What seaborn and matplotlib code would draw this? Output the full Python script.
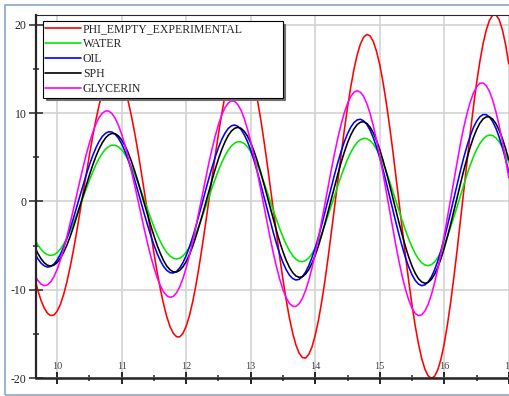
import matplotlib
matplotlib.use("Agg")
import matplotlib.pyplot as plt
import pandas as pd
import seaborn as sns
from matplotlib.patches import Rectangle
from matplotlib.ticker import MultipleLocator

# time axis (s), one row per second, and angle traces
TIME = [
    9.60, 9.65, 9.70, 9.75, 9.80, 9.85, 9.90, 9.95,
    10.00, 10.05, 10.10, 10.15, 10.20, 10.25, 10.30, 10.35, 10.40, 10.45,
    10.50, 10.55, 10.60, 10.65, 10.70, 10.75, 10.80, 10.85, 10.90, 10.95,
    11.00, 11.05, 11.10, 11.15, 11.20, 11.25, 11.30, 11.35, 11.40, 11.45,
    11.50, 11.55, 11.60, 11.65, 11.70, 11.75, 11.80, 11.85, 11.90, 11.95,
    12.00, 12.05, 12.10, 12.15, 12.20, 12.25, 12.30, 12.35, 12.40, 12.45,
    12.50, 12.55, 12.60, 12.65, 12.70, 12.75, 12.80, 12.85, 12.90, 12.95,
    13.00, 13.05, 13.10, 13.15, 13.20, 13.25, 13.30, 13.35, 13.40, 13.45,
    13.50, 13.55, 13.60, 13.65, 13.70, 13.75, 13.80, 13.85, 13.90, 13.95,
    14.00, 14.05, 14.10, 14.15, 14.20, 14.25, 14.30, 14.35, 14.40, 14.45,
    14.50, 14.55, 14.60, 14.65, 14.70, 14.75, 14.80, 14.85, 14.90, 14.95,
    15.00, 15.05, 15.10, 15.15, 15.20, 15.25, 15.30, 15.35, 15.40, 15.45,
    15.50, 15.55, 15.60, 15.65, 15.70, 15.75, 15.80, 15.85, 15.90, 15.95,
    16.00, 16.05, 16.10, 16.15, 16.20, 16.25, 16.30, 16.35, 16.40, 16.45,
    16.50, 16.55, 16.60, 16.65, 16.70, 16.75, 16.80, 16.85, 16.90, 16.95,
    17.00,
]
PHI_EMPTY = [
    -7.04, -8.64, -10.04, -11.19, -12.06, -12.64, -12.90, -12.84,
    -12.41, -11.64, -10.53, -9.12, -7.46, -5.59, -3.54, -1.36, 0.87, 3.10,
    5.27, 7.33, 9.22, 10.89, 12.28, 13.40, 14.18, 14.61, 14.68, 14.38,
    13.71, 12.70, 11.35, 9.71, 7.82, 5.73, 3.49, 1.14, -1.22, -3.58,
    -5.86, -8.01, -9.93, -11.63, -13.06, -14.17, -14.91, -15.30, -15.31, -14.91,
    -14.10, -12.91, -11.36, -9.49, -7.34, -5.00, -2.52, 0.07, 2.67, 5.22,
    7.66, 9.90, 11.92, 13.66, 15.04, 16.06, 16.69, 16.90, 16.68, 16.02,
    14.94, 13.47, 11.65, 9.52, 7.13, 4.55, 1.85, -0.92, -3.66, -6.34,
    -8.85, -11.16, -13.19, -14.88, -16.22, -17.15, -17.65, -17.71, -17.30, -16.44,
    -15.12, -13.42, -11.34, -8.96, -6.31, -3.50, -0.60, 2.35, 5.26, 8.04,
    10.63, 12.94, 14.95, 16.60, 17.81, 18.59, 18.90, 18.74, 18.09, 16.98,
    15.45, 13.52, 11.22, 8.64, 5.86, 2.86, -0.17, -3.25, -6.23, -9.07,
    -11.73, -14.09, -16.11, -17.76, -18.97, -19.72, -20.00, -19.77, -19.03, -17.78,
    -16.05, -13.87, -11.33, -8.49, -5.43, -2.18, 1.12, 4.41, 7.58, 10.61,
    13.37, 15.78, 17.81, 19.39, 20.49, 21.08, 21.12, 20.58, 19.44, 17.76,
    15.56,
]
WATER = [
    -3.51, -4.26, -4.90, -5.41, -5.79, -6.02, -6.10, -6.02,
    -5.78, -5.38, -4.83, -4.17, -3.38, -2.50, -1.55, -0.56, 0.45, 1.45,
    2.41, 3.32, 4.15, 4.87, 5.47, 5.92, 6.23, 6.38, 6.36, 6.18,
    5.84, 5.35, 4.72, 3.97, 3.11, 2.17, 1.18, 0.15, -0.87, -1.89,
    -2.85, -3.74, -4.54, -5.22, -5.77, -6.17, -6.42, -6.50, -6.41, -6.15,
    -5.74, -5.15, -4.44, -3.61, -2.68, -1.67, -0.62, 0.46, 1.52, 2.54,
    3.51, 4.39, 5.16, 5.79, 6.27, 6.60, 6.76, 6.74, 6.55, 6.18,
    5.65, 4.97, 4.16, 3.25, 2.25, 1.18, 0.09, -1.01, -2.07, -3.09,
    -4.03, -4.86, -5.56, -6.12, -6.52, -6.76, -6.81, -6.68, -6.38, -5.90,
    -5.27, -4.50, -3.61, -2.62, -1.55, -0.45, 0.68, 1.79, 2.85, 3.85,
    4.76, 5.54, 6.19, 6.68, 7.00, 7.14, 7.11, 6.88, 6.49, 5.92,
    5.20, 4.35, 3.38, 2.32, 1.21, 0.06, -1.09, -2.21, -3.28, -4.27,
    -5.15, -5.90, -6.50, -6.93, -7.18, -7.26, -7.14, -6.83, -6.34, -5.68,
    -4.85, -3.90, -2.85, -1.72, -0.53, 0.67, 1.85, 3.00, 4.07, 5.03,
    5.86, 6.54, 7.05, 7.38, 7.52, 7.46, 7.20, 6.76, 6.13, 5.35,
    4.42,
]
OIL = [
    -5.01, -5.81, -6.48, -6.97, -7.28, -7.42, -7.35, -7.08,
    -6.62, -5.97, -5.15, -4.19, -3.11, -1.94, -0.71, 0.56, 1.80, 3.01,
    4.14, 5.17, 6.06, 6.80, 7.36, 7.72, 7.89, 7.85, 7.60, 7.15,
    6.51, 5.69, 4.72, 3.63, 2.45, 1.20, -0.10, -1.40, -2.65, -3.83,
    -4.92, -5.89, -6.71, -7.35, -7.80, -8.05, -8.09, -7.91, -7.51, -6.91,
    -6.11, -5.14, -4.03, -2.81, -1.49, -0.14, 1.24, 2.57, 3.85, 5.04,
    6.10, 7.00, 7.72, 8.25, 8.56, 8.65, 8.51, 8.14, 7.55, 6.77,
    5.79, 4.67, 3.42, 2.08, 0.67, -0.76, -2.16, -3.51, -4.79, -5.93,
    -6.91, -7.72, -8.33, -8.71, -8.88, -8.81, -8.51, -7.98, -7.24, -6.32,
    -5.23, -4.00, -2.65, -1.24, 0.21, 1.66, 3.07, 4.42, 5.65, 6.74,
    7.66, 8.40, 8.93, 9.23, 9.30, 9.12, 8.71, 8.07, 7.20, 6.16,
    4.94, 3.60, 2.15, 0.64, -0.86, -2.37, -3.82, -5.16, -6.38, -7.42,
    -8.29, -8.93, -9.34, -9.52, -9.43, -9.10, -8.53, -7.73, -6.71, -5.51,
    -4.17, -2.71, -1.16, 0.40, 1.97, 3.49, 4.93, 6.23, 7.37, 8.34,
    9.07, 9.57, 9.83, 9.83, 9.56, 9.04, 8.28, 7.30, 6.12, 4.78,
    3.30,
]
SPH = [
    -4.20, -5.10, -5.86, -6.48, -6.93, -7.21, -7.30, -7.20,
    -6.90, -6.42, -5.76, -4.95, -3.99, -2.93, -1.79, -0.59, 0.63, 1.84,
    3.00, 4.09, 5.09, 5.95, 6.65, 7.19, 7.55, 7.70, 7.66, 7.41,
    6.96, 6.33, 5.53, 4.56, 3.48, 2.31, 1.07, -0.21, -1.48, -2.71,
    -3.88, -4.96, -5.89, -6.69, -7.31, -7.73, -7.96, -7.98, -7.79, -7.38,
    -6.80, -6.01, -5.06, -3.98, -2.78, -1.53, -0.21, 1.12, 2.42, 3.67,
    4.82, 5.85, 6.73, 7.45, 7.96, 8.28, 8.39, 8.28, 7.94, 7.39,
    6.63, 5.70, 4.62, 3.41, 2.10, 0.74, -0.65, -2.02, -3.34, -4.58,
    -5.69, -6.66, -7.44, -8.04, -8.42, -8.58, -8.51, -8.21, -7.70, -6.98,
    -6.08, -5.01, -3.80, -2.50, -1.12, 0.30, 1.70, 3.08, 4.39, 5.57,
    6.63, 7.52, 8.21, 8.70, 8.97, 9.02, 8.83, 8.41, 7.76, 6.90,
    5.87, 4.67, 3.35, 1.95, 0.48, -1.01, -2.45, -3.84, -5.15, -6.31,
    -7.31, -8.12, -8.73, -9.10, -9.25, -9.15, -8.81, -8.23, -7.43, -6.43,
    -5.27, -3.95, -2.53, -1.04, 0.48, 2.00, 3.47, 4.84, 6.10, 7.21,
    8.12, 8.84, 9.33, 9.57, 9.57, 9.32, 8.81, 8.07, 7.13, 5.99,
    4.70,
]
GLYCERIN = [
    -7.43, -8.29, -8.93, -9.34, -9.52, -9.43, -9.09, -8.50,
    -7.68, -6.63, -5.40, -4.02, -2.51, -0.95, 0.67, 2.27, 3.83, 5.29,
    6.62, 7.79, 8.75, 9.50, 10.00, 10.24, 10.23, 9.94, 9.40, 8.61,
    7.60, 6.39, 5.00, 3.48, 1.87, 0.20, -1.48, -3.12, -4.71, -6.17,
    -7.48, -8.62, -9.54, -10.23, -10.67, -10.84, -10.73, -10.33, -9.65, -8.69,
    -7.50, -6.11, -4.55, -2.84, -1.05, 0.75, 2.55, 4.31, 5.94, 7.41,
    8.71, 9.78, 10.60, 11.13, 11.38, 11.33, 10.97, 10.32, 9.37, 8.18,
    6.76, 5.14, 3.41, 1.56, -0.34, -2.23, -4.08, -5.83, -7.40, -8.81,
    -9.99, -10.89, -11.53, -11.85, -11.87, -11.57, -10.97, -10.07, -8.91, -7.49,
    -5.89, -4.12, -2.23, -0.28, 1.70, 3.63, 5.46, 7.18, 8.71, 10.03,
    11.09, 11.88, 12.36, 12.53, 12.37, 11.88, 11.07, 9.95, 8.56, 6.94,
    5.14, 3.18, 1.14, -0.95, -3.01, -4.98, -6.84, -8.53, -9.98, -11.16,
    -12.08, -12.66, -12.91, -12.81, -12.39, -11.63, -10.55, -9.19, -7.60, -5.79,
    -3.81, -1.73, 0.39, 2.50, 4.57, 6.53, 8.33, 9.88, 11.21, 12.25,
    12.98, 13.37, 13.41, 13.11, 12.46, 11.46, 10.16, 8.60, 6.78, 4.80,
    2.68,
]

SERIES = ["PHI_EMPTY_EXPERIMENTAL", "WATER", "OIL", "SPH", "GLYCERIN"]
COLORS = {
    "PHI_EMPTY_EXPERIMENTAL": "#ff0000",
    "WATER": "#00e600",
    "OIL": "#0000ff",
    "SPH": "#000000",
    "GLYCERIN": "#ff00ff",
}

sns.set_style("ticks")
plt.rcParams["font.family"] = ["Liberation Serif", "DejaVu Serif"]
plt.rcParams["axes.unicode_minus"] = False

df = pd.DataFrame({
    "t": TIME,
    "PHI_EMPTY_EXPERIMENTAL": PHI_EMPTY,
    "WATER": WATER,
    "OIL": OIL,
    "SPH": SPH,
    "GLYCERIN": GLYCERIN,
}).melt(id_vars="t", var_name="series", value_name="phi")

W, H = 509, 396
fig = plt.figure(figsize=(W / 100, H / 100), dpi=100)
fig.patch.set_facecolor("white")
ax = fig.add_axes([36 / W, (H - 378.3) / H, 475 / W, (378.3 - 14.7) / H])

sns.lineplot(
    data=df, x="t", y="phi", hue="series", hue_order=SERIES,
    palette=COLORS, estimator=None, sort=False, linewidth=1.15, ax=ax,
)

ax.set_xlim(9.672, 17.034)
ax.set_ylim(-20, 21.13)
ax.set_xlabel("")
ax.set_ylabel("")

ax.xaxis.set_major_locator(MultipleLocator(1))
ax.xaxis.set_minor_locator(MultipleLocator(0.5))
ax.yaxis.set_major_locator(MultipleLocator(10))
ax.yaxis.set_minor_locator(MultipleLocator(5))

ax.tick_params(axis="x", which="major", direction="inout", length=8, width=1.4,
               pad=-16, labelsize=7.5, labelcolor="#444444", top=False)
ax.tick_params(axis="x", which="minor", direction="inout", length=4.3, width=1.1, top=False)
ax.tick_params(axis="y", which="major", direction="inout", length=9.4, width=1.1,
               pad=2.2, labelsize=8.5, labelcolor="#222222", right=False)
ax.tick_params(axis="y", which="minor", direction="inout", length=4.3, width=1.1, right=False)

ax.grid(True, which="major", color="#d3d3d3", linewidth=1.2)
ax.set_axisbelow(True)

ax.spines["left"].set_linewidth(1.6)
ax.spines["bottom"].set_linewidth(1.8)
ax.spines["top"].set_linewidth(0.8)
ax.spines["right"].set_visible(False)

handles, labels = ax.get_legend_handles_labels()
leg = ax.legend(
    handles, labels, loc="upper left", bbox_to_anchor=(0.0142, 0.0, 0.505, 0.9827),
    mode="expand", borderaxespad=0, fontsize=8.5, handlelength=3.0,
    handletextpad=0.2, labelspacing=0.25, borderpad=0.2, fancybox=False,
    framealpha=1, edgecolor="black", shadow={"color": "#707070", "alpha": 1},
)
leg.get_frame().set_linewidth(0.8)
for line in leg.get_lines():
    line.set_linewidth(1.2)

# thin blue frame around the whole picture
fig.add_artist(Rectangle((5 / W, 1 / H), 1.0, (H - 6) / H, transform=fig.transFigure,
                         fill=False, edgecolor="#8da6c8", linewidth=1.2))

fig.savefig("out.png", dpi=100, facecolor="white")
